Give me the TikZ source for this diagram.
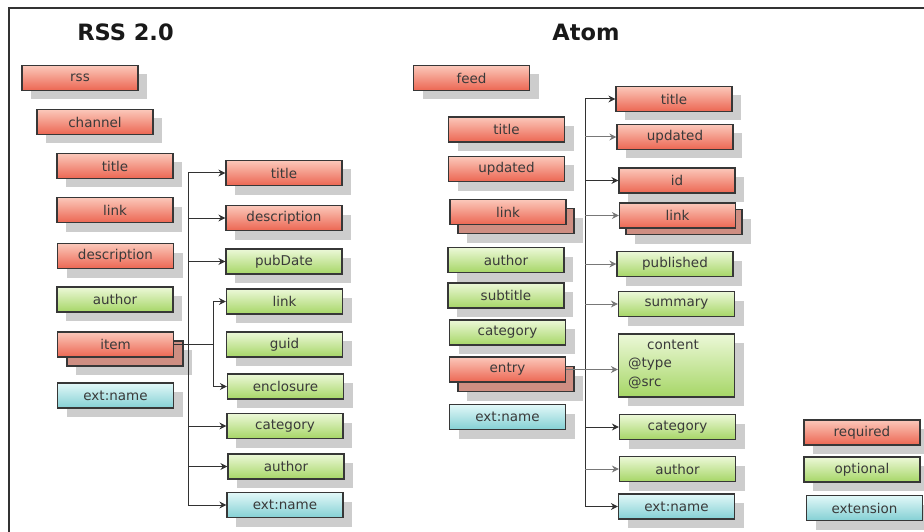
\documentclass[tikz,border=0pt]{standalone}
\usepackage{fontspec}
\setmainfont{DejaVu Sans}
\usetikzlibrary{arrows.meta,shadows}

\definecolor{reqtop}{RGB}{251,200,186}
\definecolor{reqbot}{RGB}{236,102,82}
\definecolor{opttop}{RGB}{236,248,216}
\definecolor{optbot}{RGB}{166,214,102}
\definecolor{exttop}{RGB}{226,248,248}
\definecolor{extbot}{RGB}{132,208,212}
\definecolor{stackfill}{RGB}{206,142,130}
\definecolor{boxline}{RGB}{55,55,55}
\definecolor{shadowgray}{RGB}{205,205,205}
\definecolor{txt}{RGB}{58,58,58}
\definecolor{linedark}{RGB}{50,50,50}
\definecolor{linelight}{RGB}{120,120,120}

\newcommand\boxfont{\fontsize{13.5}{15}\selectfont}
\newcommand\headfont{\fontsize{22.5}{26}\selectfont\bfseries}

\tikzset{
  flatbox/.style={draw=boxline, line width=1.2pt, minimum width=116pt,
    minimum height=25pt, inner sep=0pt, font=\boxfont, text=txt},
  shadowed/.style={drop shadow={shadow xshift=9pt, shadow yshift=-9pt,
    fill=shadowgray, opacity=1}},
  elem/.style={flatbox, shadowed},
  req/.style={elem, top color=reqtop, bottom color=reqbot},
  opt/.style={elem, top color=opttop, bottom color=optbot},
  ext/.style={elem, top color=exttop, bottom color=extbot},
  % front box of a repeatable element: its back copy carries the shadow
  reqfront/.style={flatbox, top color=reqtop, bottom color=reqbot},
  stacked/.style={elem, fill=stackfill},
  bar/.style={draw=linedark, line width=1pt},
  conn/.style={draw=linedark, line width=1pt, -{Stealth[length=7pt,width=7pt]}},
  connl/.style={draw=linelight, line width=1pt, -{Stealth[length=7pt,width=7pt]}},
  heading/.style={font=\headfont, text=black!90},
  plain/.style={font=\boxfont, text=txt, inner sep=0pt},
}

\begin{document}
\begin{tikzpicture}[x=1pt, y=-1pt]
\useasboundingbox (0,0) rectangle (924,532);
\fill[white] (0,0) rectangle (924,532);

% frame
\coordinate (frameTL) at (9,8);
\coordinate (frameTR) at (924,8);
\coordinate (frameBL) at (9,532);
\draw[line width=1.6pt, draw=black!80] (frameBL) -- (frameTL) -- (frameTR);

% headings
\node[heading] (hrss) at (125.5,32) {RSS 2.0};
\node[heading] (hatom) at (586,32) {Atom};

% ---------------- RSS 2.0 ----------------
\node[req] (rss) at (80,78) {rss};
\node[req] (channel) at (95,122) {channel};
\node[req] (ctitle) at (115,166) {title};
\node[req] (clink) at (115,210) {link};
\node[req] (cdesc) at (115.5,256) {description};
\node[opt] (cauthor) at (115,299.5) {author};
\node[stacked] (itemback) at (125,353.5) {};
\node[reqfront] (item) at (115.5,344.5) {item};
\node[ext] (cext) at (115.5,395.5) {ext:name};

\node[req] (ititle) at (284,173) {title};
\node[req] (idesc) at (284,218) {description};
\node[opt] (ipub) at (284,261.5) {pubDate};
\node[opt] (ilink) at (284.5,301.5) {link};
\node[opt] (iguid) at (284.5,344.5) {guid};
\node[opt] (iencl) at (285.5,386.5) {enclosure};
\node[opt] (icat) at (285,426) {category};
\node[opt] (iauthor) at (286,466.5) {author};
\node[ext] (iext) at (285,505) {ext:name};

\coordinate (rbar) at (188,0);
\coordinate (ibar) at (213,0);
\draw[bar] (ititle.west -| rbar) -- (iext.west -| rbar);
\foreach \n in {ititle,idesc,ipub,icat,iauthor,iext}
  \draw[conn] (\n.west -| rbar) -- (\n.west);
\draw[bar] (item.east) -- (item.east -| ibar);
\draw[bar] (ilink.west -| ibar) -- (iencl.west -| ibar);
\draw[conn] (ilink.west -| ibar) -- (ilink.west);
\draw[conn] (iencl.west -| ibar) -- (iencl.west);

% ---------------- Atom ----------------
\node[req] (feed) at (471.5,78) {feed};
\node[req] (ftitle) at (506.5,129.5) {title};
\node[req] (fupd) at (506.5,169) {updated};
\node[stacked] (flinkback) at (516,221) {};
\node[reqfront] (flink) at (508,212) {link};
\node[opt] (fauthor) at (506,260) {author};
\node[opt] (fsub) at (506,295.5) {subtitle};
\node[opt] (fcat) at (507.5,332.5) {category};
\node[stacked] (entryback) at (516,379) {};
\node[reqfront] (entry) at (507.5,369.5) {entry};
\node[ext] (fext) at (507.5,417) {ext:name};

\node[req] (etitle) at (674,99) {title};
\node[req] (eupd) at (675,137) {updated};
\node[req] (eid) at (677,180.5) {id};
\node[stacked] (elinkback) at (684,222) {};
\node[reqfront] (elink) at (677.5,215.5) {link};
\node[opt] (epub) at (675,264) {published};
\node[opt] (esum) at (676.5,304) {summary};
\node[opt, minimum height=63pt] (econt) at (676.5,365.5) {};
\node[plain] (econtname) at (673,345) {content};
\node[plain, anchor=west] (etype) at (628,364) {@type};
\node[plain, anchor=west] (esrc) at (628,383) {@src};
\node[opt] (ecat) at (677.5,427) {category};
\node[opt] (eauthor) at (677.5,469) {author};
\node[ext] (eext) at (676.5,506.5) {ext:name};

\coordinate (abar) at (585,0);
\draw[bar] (etitle.west -| abar) -- (eext.west -| abar);
\foreach \n in {etitle,eid,ecat,eext}
  \draw[conn] (\n.west -| abar) -- (\n.west);
\foreach \n in {eupd,elink,epub,esum,eauthor}
  \draw[connl] (\n.west -| abar) -- (\n.west);
\draw[connl] (entry.east) -- (econt.west |- entry.east);

% ---------------- legend ----------------
\node[req] (lreq) at (862,432.5) {required};
\node[opt] (lopt) at (862,469.5) {optional};
\node[ext] (lext) at (864.5,508) {extension};
\end{tikzpicture}
\end{document}
